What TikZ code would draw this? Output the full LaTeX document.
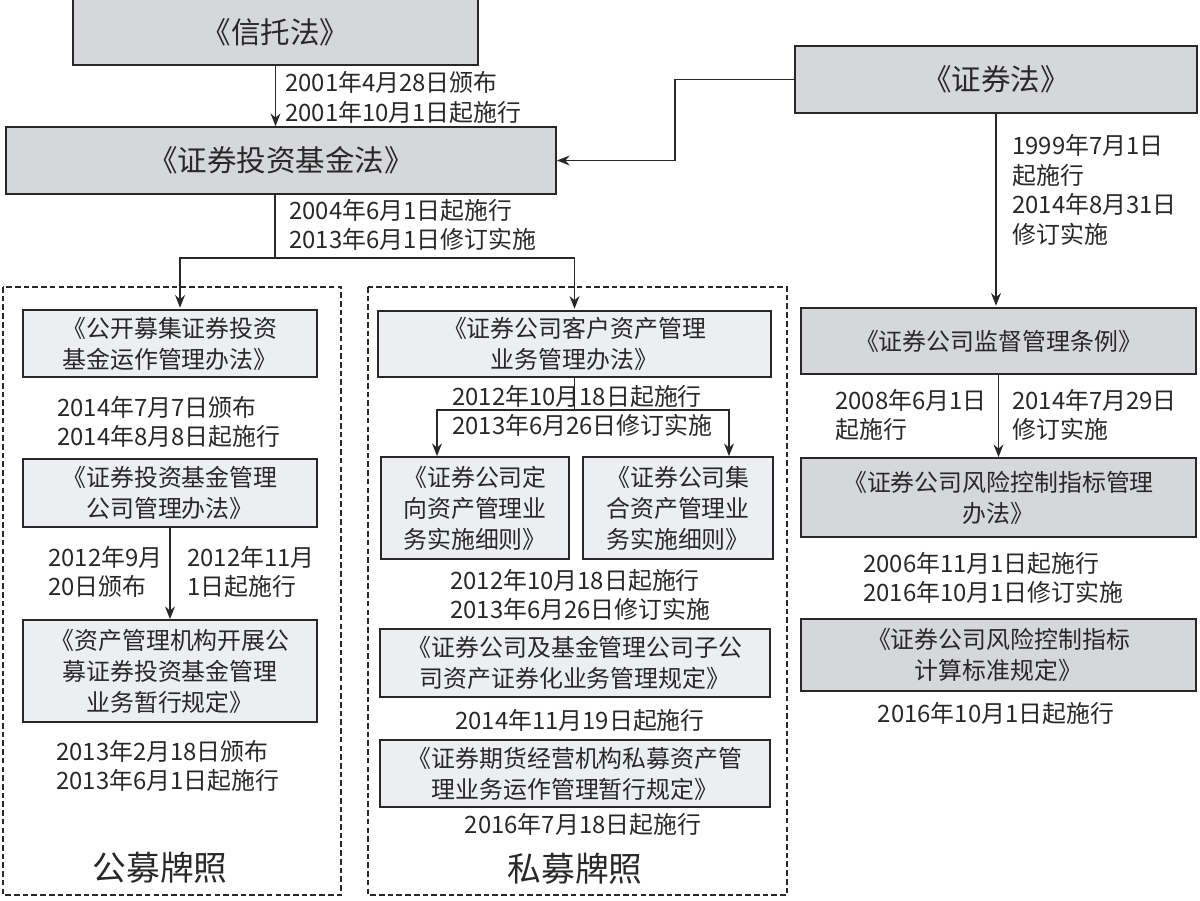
\documentclass[tikz,border=0pt]{standalone}
\usepackage{fontspec}
\setmainfont{Noto Sans CJK SC}
\usetikzlibrary{arrows.meta}

\definecolor{lawgray}{RGB}{214,215,218}
\definecolor{rulegray}{RGB}{236,238,241}
\definecolor{inkgray}{RGB}{40,40,40}

\newcommand\lawfont{\fontsize{21}{25}\selectfont}
\newcommand\rulefont{\fontsize{17}{22}\selectfont}
\newcommand\notefont{\fontsize{17}{21}\selectfont}
\newcommand\tagfont{\fontsize{24}{28}\selectfont}

\begin{document}
\begin{tikzpicture}[x=0.025cm, y=-0.025cm, >={Stealth[length=9pt,width=7pt]}, color=inkgray]
			\tikzstyle{lawbox} = [draw, line width=1.2pt, fill=lawgray, inner sep=0pt, align=center, font=\rulefont]
			\tikzstyle{rulebox} = [draw, line width=1.2pt, fill=rulegray, inner sep=0pt, align=center, font=\rulefont]
			\tikzstyle{datenote} = [inner sep=0pt, align=left, font=\notefont]
			\tikzstyle{license} = [draw, line width=1pt, dash pattern=on 4pt off 2.2pt]
			\tikzstyle{link} = [line width=1.2pt]
			\useasboundingbox (0,0) rectangle (1200,900);

			% licence frames
			\draw[license] (3,287) rectangle (341,895);
			\draw[license] (368,287) rectangle (787,895);

			% laws
			\node[lawbox, font=\lawfont, minimum width=101.25mm, minimum height=16.5mm] (xtf) at (275.5,32) {《信托法》};
			\node[lawbox, font=\lawfont, minimum width=137.5mm, minimum height=16.75mm] (jjf) at (281,160.5) {《证券投资基金法》};
			\node[lawbox, font=\lawfont, minimum width=100.5mm, minimum height=16.75mm] (zqf) at (996,79.5) {《证券法》};

			% public fund licence
			\node[rulebox, minimum width=73.5mm, minimum height=16.75mm] (gkmj) at (170,343.5) {《公开募集证券投资\\基金运作管理办法》};
			\node[rulebox, minimum width=73.5mm, minimum height=17mm] (jjgl) at (170,493) {《证券投资基金管理\\公司管理办法》};
			\node[rulebox, minimum width=73.5mm, minimum height=25.5mm] (zcgl) at (170,671) {《资产管理机构开展公\\募证券投资基金管理\\业务暂行规定》};

			% private fund licence
			\node[rulebox, minimum width=98.25mm, minimum height=16.5mm] (khzc) at (574.5,344) {《证券公司客户资产管理\\业务管理办法》};
			\node[rulebox, minimum width=47mm, minimum height=25.5mm] (dxzc) at (475,508) {《证券公司定\\向资产管理业\\务实施细则》};
			\node[rulebox, minimum width=47.5mm, minimum height=25.5mm] (jhzc) at (678,508) {《证券公司集\\合资产管理业\\务实施细则》};
			\node[rulebox, minimum width=97.5mm, minimum height=17mm] (zqhy) at (575,663) {《证券公司及基金管理公司子公\\司资产证券化业务管理规定》};
			\node[rulebox, minimum width=97.5mm, minimum height=16.75mm] (smzc) at (575,773.5) {《证券期货经营机构私募资产管\\理业务运作管理暂行规定》};

			% securities companies
			\node[lawbox, minimum width=98.75mm, minimum height=16.5mm] (jdgl) at (998.5,341) {《证券公司监督管理条例》};
			\node[lawbox, minimum width=98.75mm, minimum height=19.75mm] (fxkz) at (998.5,497.5) {《证券公司风险控制指标管理\\办法》};
			\node[lawbox, minimum width=98.75mm, minimum height=18mm] (jsbz) at (998.5,655) {《证券公司风险控制指标\\计算标准规定》};

			% connectors
			\coordinate (turn) at (675,0);
			\coordinate (fork) at (275,258);
			\coordinate (split) at (574.5,410);
			\coordinate (sl) at (437,410);
			\coordinate (sr) at (729,410);

			\draw[->, link] (xtf.south) -- (xtf.south |- jjf.north);
			\draw[->, link] (zqf.west) -- (zqf.west -| turn) |- (jjf.east);
			\draw[link] (fork |- jjf.south) -- (fork);
			\draw[->, link, shorten >=1pt] (fork) -| ([xshift=2.5mm]gkmj.north);
			\draw[->, link, shorten >=1pt] (fork) -| (khzc.north);
			\draw[->, link] (jjgl.south) -- (zcgl.north);
			\draw[link] (khzc.south) -- (split);
			\draw[->, link] (split) -- (sl) -- (sl |- dxzc.north);
			\draw[->, link] (split) -- (sr) -- (sr |- jhzc.north);
			\draw[->, link, shorten >=1pt] (zqf.south) -- (zqf.south |- jdgl.north);
			\draw[->, link] (jdgl.south) -- (jdgl.south |- fxkz.north);

			% dates
			\node[datenote, anchor=west] (d1) at (285,97.5) {2001年4月28日颁布\\2001年10月1日起施行};
			\node[datenote, anchor=west] (d2) at (289,225) {2004年6月1日起施行\\2013年6月1日修订实施};
			\node[datenote, anchor=west] (d3) at (1012,190) {1999年7月1日\\起施行\\2014年8月31日\\修订实施};
			\node[datenote, anchor=west] (d4) at (57,422) {2014年7月7日颁布\\2014年8月8日起施行};
			\node[datenote, anchor=west] (d5) at (48,572) {2012年9月\\20日颁布};
			\node[datenote, anchor=west] (d6) at (187,572) {2012年11月\\1日起施行};
			\node[datenote, anchor=west] (d7) at (56,766) {2013年2月18日颁布\\2013年6月1日起施行};
			\node[datenote, anchor=west] (d8) at (452,411) {2012年10月18日起施行\\2013年6月26日修订实施};
			\node[datenote, anchor=west] (d9) at (450,595) {2012年10月18日起施行\\2013年6月26日修订实施};
			\node[datenote] (d10) at (580,720) {2014年11月19日起施行};
			\node[datenote] (d11) at (583,824) {2016年7月18日起施行};
			\node[datenote, anchor=west] (d12) at (835,415) {2008年6月1日\\起施行};
			\node[datenote, anchor=west] (d13) at (1012,415) {2014年7月29日\\修订实施};
			\node[datenote, anchor=west] (d14) at (863,578) {2006年11月1日起施行\\2016年10月1日修订实施};
			\node[datenote] (d15) at (996,713) {2016年10月1日起施行};

			% licence names
			\node[font=\tagfont, inner sep=0pt] (gmpz) at (160,868) {公募牌照};
			\node[font=\tagfont, inner sep=0pt] (smpz) at (575,869) {私募牌照};

\end{tikzpicture}
\end{document}
